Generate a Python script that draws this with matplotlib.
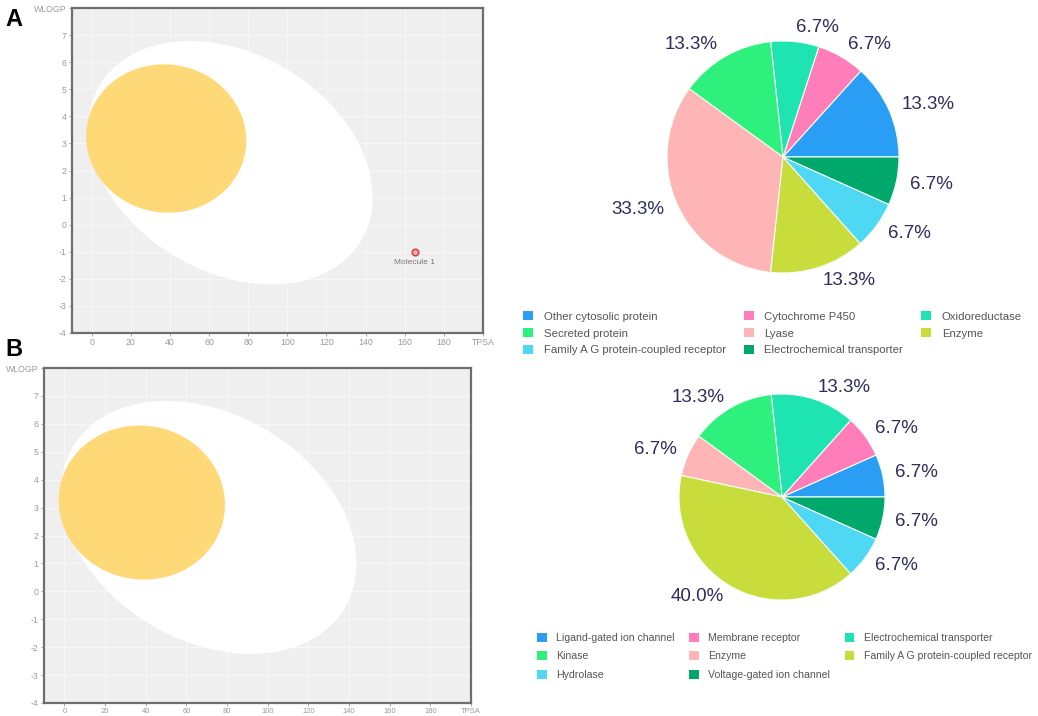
import numpy as np
import matplotlib.pyplot as plt
from matplotlib.patches import Patch

plt.rcParams['font.family'] = ['Liberation Sans', 'DejaVu Sans']

# --- data ---
# BOILED-Egg regions (TPSA, WLOGP), sizes in TPSA units, y squeezed by aspect
white_center = (71.05, 2.29)
white_axes = (77.7, 55.7, -30.7)
yolk_center = (38.1, 3.18)
yolk_axes = (41.0, 37.8, -10.0)
molecule_x = [165]
molecule_y = [-1.0]
molecule_names = ["Molecule 1"]
x_ticks = [0, 20, 40, 60, 80, 100, 120, 140, 160, 180, 200]
x_tick_labels = ["0", "20", "40", "60", "80", "100", "120", "140", "160", "180", "TPSA"]
y_ticks = [-4, -3, -2, -1, 0, 1, 2, 3, 4, 5, 6, 7, 8]
y_tick_labels = ["-4", "-3", "-2", "-1", "0", "1", "2", "3", "4", "5", "6", "7", "WLOGP"]

pie_colors = ['#2a9df4', '#ff7eb9', '#1de4b0', '#2ef07c', '#ffb5b5', '#c8dc3c', '#4fd8f4', '#00a86b']

a_labels = ["Other cytosolic protein", "Cytochrome P450", "Oxidoreductase", "Secreted protein",
            "Lyase", "Enzyme", "Family A G protein-coupled receptor", "Electrochemical transporter"]
a_values = [13.3, 6.7, 6.7, 13.3, 33.3, 13.3, 6.7, 6.7]

b_labels = ["Ligand-gated ion channel", "Membrane receptor", "Electrochemical transporter", "Kinase",
            "Enzyme", "Family A G protein-coupled receptor", "Hydrolase", "Voltage-gated ion channel"]
b_values = [6.7, 6.7, 13.3, 13.3, 6.7, 40.0, 6.7, 6.7]

W, H = 1038, 716
fig = plt.figure(figsize=(W / 100, H / 100), dpi=100)


def px_axes(left, top, right, bottom):
    return fig.add_axes([left / W, (H - bottom) / H, (right - left) / W, (bottom - top) / H])


def ellipse(cx, cy, a, b, ang_deg, k):
    t = np.linspace(0, 2 * np.pi, 300)
    ang = np.deg2rad(ang_deg)
    u = a * np.cos(t) * np.cos(ang) - b * np.sin(t) * np.sin(ang)
    v = a * np.cos(t) * np.sin(ang) + b * np.sin(t) * np.cos(ang)
    return cx + u, cy + v / k


def egg_panel(box, show_mol, xsize):
    ax = px_axes(*box)
    ax.set_facecolor('#efefef')
    ax.set_xlim(-10, 200)
    ax.set_ylim(-4, 8)
    w_px = box[2] - box[0]
    h_px = box[3] - box[1]
    k = (h_px / 12) / (w_px / 210)
    ax.set_xticks(x_ticks)
    ax.set_xticklabels(x_tick_labels)
    ax.set_yticks(y_ticks)
    ax.set_yticklabels(y_tick_labels)
    ax.tick_params(colors='#9a9a9a', labelsize=6.3, length=2, width=0.6, pad=2)
    ax.tick_params(axis='x', labelsize=xsize, pad=1.5)
    ax.grid(True, color='#f7f7f7', linewidth=0.8)
    ax.set_axisbelow(True)
    for s in ax.spines.values():
        s.set_color('#6e6e6e')
        s.set_linewidth(1.6)
    wx, wy = ellipse(white_center[0], white_center[1], *white_axes, k)
    ax.fill(wx, wy, color='white', zorder=2, lw=0)
    yx, yy = ellipse(yolk_center[0], yolk_center[1], *yolk_axes, k)
    ax.fill(yx, yy, color='#ffd877', zorder=3, lw=0)
    if show_mol:
        ax.scatter(molecule_x, molecule_y, s=22, facecolor='#f3b3b3', edgecolor='#d64545',
                   linewidth=1.2, zorder=4)
        for x, y, n in zip(molecule_x, molecule_y, molecule_names):
            ax.text(x, y - 0.25, n, fontsize=6, color='#777777', ha='center', va='top', zorder=4)
    return ax


egg_panel((72, 8, 483, 333), True, 6.3)
egg_panel((44, 368, 471, 703), False, 5.5)

fig.text(14 / W, 1 - 20 / H, "A", fontsize=17, fontweight='bold', ha='center', va='center')
fig.text(14 / W, 1 - 350 / H, "B", fontsize=17, fontweight='bold', ha='center', va='center')


def pie_panel(cx, cy, r, values, labels, legend_xy, lfs, lspace, cspace):
    ax = px_axes(cx - r, cy - r, cx + r, cy + r)
    wedges, texts = ax.pie(values, colors=pie_colors, startangle=0, counterclock=True,
                           labels=[f"{v:.1f}%" for v in values], labeldistance=1.12,
                           wedgeprops=dict(edgecolor='#f4fff6', linewidth=0.8),
                           textprops=dict(fontsize=13.5, color='#2e2e5e'))
    ax.set_xlim(-1, 1)
    ax.set_ylim(-1, 1)
    ax.set_aspect('equal')
    handles = [Patch(facecolor=c, edgecolor='none') for c in pie_colors]
    # legend fills column-major: reorder so rows read across like the source
    order = [0, 3, 6, 1, 4, 7, 2, 5]
    fig.legend([handles[i] for i in order], [labels[i] for i in order], ncol=3,
               loc='upper left', bbox_to_anchor=(legend_xy[0] / W, 1 - legend_xy[1] / H),
               frameon=False, fontsize=lfs, handlelength=0.9, handleheight=0.9,
               handletextpad=0.9, columnspacing=cspace, labelspacing=lspace, labelcolor='#555555',
               borderaxespad=0, borderpad=0)
    return ax


pie_panel(783, 157, 116, a_values, a_labels, (523, 311), 8.2, 0.55, 1.6)
pie_panel(782, 497, 103, b_values, b_labels, (537, 633), 7.6, 0.8, 1.4)

fig.savefig("out.png", dpi=100)
